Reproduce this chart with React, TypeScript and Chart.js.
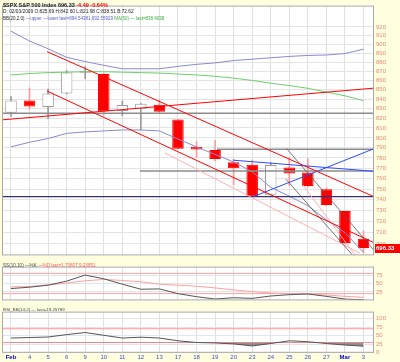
import React, { useEffect, useRef } from "react";
import { Chart, registerables } from "chart.js";

Chart.register(...registerables);

const FONT = "'Liberation Sans', Arial, sans-serif";

// ---------- data ----------
const dateLabels = ["Feb", "4", "5", "6", "9", "10", "11", "12", "13", "17", "18", "19", "20", "23", "24", "25", "26", "27", "Mar", "3"];
const opens = [825.69, 838.51, 831.75, 846.09, 868.24, 866.87, 827.41, 829.91, 833.95, 818.61, 791.06, 787.91, 775.87, 773.25, 744.69, 770.64, 765.76, 749.93, 729.57, 704.44];
const highs = [842.6, 851.85, 850.55, 870.75, 875.01, 868.05, 838.22, 835.48, 839.43, 818.61, 796.17, 797.58, 778.69, 777.85, 775.49, 780.12, 779.42, 751.27, 729.57, 711.67];
const lows = [821.98, 829.18, 819.91, 845.42, 861.65, 822.99, 822.3, 808.06, 825.21, 789.17, 780.43, 777.03, 754.25, 742.37, 744.69, 752.89, 751.75, 734.52, 699.7, 692.3];
const closes = [838.51, 832.23, 845.85, 868.6, 869.89, 827.16, 833.74, 835.19, 826.84, 789.17, 788.42, 778.94, 770.05, 743.33, 773.14, 764.9, 752.83, 735.09, 700.82, 696.33];

const bbUpper = [915, 903.8, 895, 885.4, 880.7, 876.5, 872.7, 872.7, 872.7, 875.4, 877.6, 879.2, 881.8, 883.3, 884.9, 886.4, 887.5, 888, 889.6, 894.54];
const bbLower = [791, 795.6, 799.3, 804.5, 806, 807, 808, 808, 807, 798.8, 791, 783.5, 776, 766.6, 751.6, 743.4, 734.5, 721.5, 710, 692.56];
const ma50 = [866, 867.5, 868.5, 869, 869.5, 869.5, 869, 868.5, 868, 867, 866, 864.5, 862.5, 860, 857, 854.5, 851.5, 847.5, 843.5, 838.4];

const ssK = [35, 39, 45, 57, 75, 64, 48, 33, 34, 20, 11, 4, 8, 6, 13, 17, 19, 12, 4, 1.71];
const ssD = [40, 41, 46, 51, 58, 62, 59, 55, 48, 45, 42, 37, 31, 26, 22, 20, 19, 16, 12, 9.24];
const rsi = [43, 44.5, 46, 53, 59, 51, 43, 45.5, 43, 35, 30, 28.7, 25.9, 20, 27, 35, 32.3, 27, 22.6, 19.26];

const priceTicks = [700, 710, 720, 730, 740, 750, 760, 770, 780, 790, 800, 810, 820, 830, 840, 850, 860, 870, 880, 890, 900, 910, 920];
const ssTicks = [25, 50, 75];
const ssLevels = [80, 20];
const rsiTicks = [0, 25, 50, 75, 100];
const rsiLevels = [70, 30];

// hand-drawn trend lines: [date index, price]
const trendRedUpper = [[1.94, 891.8], [19.57, 742.8]];
const trendRedLower = [[1.94, 848.6], [19.57, 701.0]];
const trendRedRising = [[-0.49, 818.3], [19.57, 851.7]];
const trendPink1 = [[8.3, 784.9], [18.81, 691.9]];
const trendPink2 = [[15.74, 753.7], [18.6, 689.1]];
const levelGray1 = [[-0.49, 825.3], [19.57, 825.3]];
const levelGray2 = [[11.1, 788.5], [19.57, 788.5]];
const levelGray3 = [[6.95, 767.2], [19.57, 767.2]];
const levelNavy = [[-0.49, 743.0], [19.57, 743.0]];
const trendBlueFlat = [[11.97, 777.8], [19.57, 767.0]];
const trendBlueRising = [[13.05, 742.8], [19.57, 789.2]];
const trendBlack1 = [[14.86, 789.2], [19.57, 694.4]];
const trendBlack2 = [[14.82, 759.4], [18.38, 690.7]];

// ---------- helpers ----------
const X_MIN = -0.485;
const X_MAX = 19.566;
const AXIS_COLOR = "#F08872";

const pts = (arr: number[][]) => arr.map(([x, y]) => ({ x, y }));
const series = (arr: number[]) => arr.map((y, i) => ({ x: i, y }));

const lineDs = (data: any[], color: string, width = 1, order = 0, extra: any = {}) => ({
  type: "line",
  data,
  borderColor: color,
  borderWidth: width,
  pointRadius: 0,
  fill: false,
  tension: 0,
  order,
  ...extra,
});

const xAxis = (showLabels: boolean) => ({
  type: "linear",
  min: X_MIN,
  max: X_MAX,
  offset: false,
  afterBuildTicks: (axis: any) => {
    axis.ticks = dateLabels.map((_, i) => ({ value: i }));
  },
  afterFit: (axis: any) => {
    axis.height = showLabels ? 9.2 : 0;
  },
  ticks: {
    display: showLabels,
    autoSkip: false,
    maxRotation: 0,
    minRotation: 0,
    padding: 1,
    callback: (v: any) => dateLabels[Math.round(v)] ?? "",
    color: (c: any) => (c.index === 0 || c.index === 18 ? "#0000CC" : "#3A4BC8"),
    font: (c: any) => ({ family: FONT, size: 6, weight: c.index === 0 || c.index === 18 ? "bold" : "normal" }),
  },
  grid: { color: "#e0e0e0", lineWidth: 1, drawTicks: false, offset: false },
  border: { display: false },
});

const yAxisBase = (tickValues: number[]) => ({
  position: "right",
  afterBuildTicks: (axis: any) => {
    axis.ticks = tickValues.map((v) => ({ value: v }));
  },
  afterFit: (axis: any) => {
    axis.width = 26;
  },
  ticks: {
    padding: 2,
    autoSkip: false,
    callback: (v: any) => String(v),
    color: AXIS_COLOR,
    font: { family: FONT, size: 6 },
  },
  grid: { color: "#e4e4e4", lineWidth: 1, drawTicks: false },
  border: { display: false },
});

const frame = {
  id: "frame",
  beforeDraw(chart: any) {
    const { ctx, chartArea: a } = chart;
    ctx.save();
    ctx.fillStyle = "#ffffff";
    ctx.fillRect(a.left, a.top, a.right - a.left, a.bottom - a.top);
    ctx.restore();
  },
  afterDraw(chart: any) {
    const { ctx, chartArea: a } = chart;
    ctx.save();
    ctx.strokeStyle = "#a8a8a8";
    ctx.lineWidth = 1;
    ctx.strokeRect(a.left + 0.5, a.top + 0.5, a.right - a.left - 1, a.bottom - a.top - 1);
    ctx.restore();
  },
};

const lastBox = {
  id: "lastBox",
  afterDraw(chart: any) {
    const last = closes[closes.length - 1];
    const y = chart.scales.y.getPixelForValue(last);
    const { ctx, chartArea } = chart;
    ctx.save();
    ctx.fillStyle = "#FF0000";
    ctx.fillRect(chartArea.right + 1, Math.round(y) - 4, 26, 9);
    ctx.fillStyle = "#ffffff";
    ctx.font = `bold 6px ${FONT}`;
    ctx.textBaseline = "middle";
    ctx.fillText(last.toFixed(2), chartArea.right + 2, Math.round(y) + 0.5);
    ctx.restore();
  },
};

const isUp = (i: number) => closes[i] >= opens[i];

function mainConfig(): any {
  return {
    type: "line",
    data: {
      datasets: [
        {
          type: "bar",
          data: highs.map((h, i) => ({ x: i, y: [lows[i], h] })),
          backgroundColor: closes.map((_, i) => (isUp(i) ? "#9a9a9a" : "#FF9a9a")),
          borderWidth: 0,
          barPercentage: 1,
          categoryPercentage: 1,
          maxBarThickness: 1,
          grouped: false,
          order: 30,
        },
        {
          type: "bar",
          data: opens.map((o, i) => ({ x: i, y: [o, closes[i]] })),
          backgroundColor: closes.map((_, i) => (isUp(i) ? "#ffffff" : "#FF0000")),
          borderColor: closes.map((_, i) => (isUp(i) ? "#9a9a9a" : "#FF0000")),
          borderWidth: 1,
          borderSkipped: false,
          barPercentage: 0.62,
          categoryPercentage: 1,
          grouped: false,
          order: 20,
        },
        lineDs(series(bbUpper), "#8a8ad0", 1, 10),
        lineDs(series(bbLower), "#8a8ad0", 1, 10),
        lineDs(series(ma50), "#6ccf6c", 1, 10),
        lineDs(pts(levelGray1), "#8c8c8c", 1.5, 5),
        lineDs(pts(levelGray2), "#8c8c8c", 1.5, 5),
        lineDs(pts(levelGray3), "#8c8c8c", 1.5, 5),
        lineDs(pts(levelNavy), "#33337a", 1.3, 5),
        lineDs(pts(trendPink1), "#FFB0B0", 1, 4),
        lineDs(pts(trendPink2), "#FFB0B0", 1, 4),
        lineDs(pts(trendBlack1), "#555555", 0.8, 3),
        lineDs(pts(trendBlack2), "#555555", 0.8, 3),
        lineDs(pts(trendBlueFlat), "#2a4cff", 1, 2),
        lineDs(pts(trendBlueRising), "#2a4cff", 1, 2),
        lineDs(pts(trendRedUpper), "#FF0000", 1, 1),
        lineDs(pts(trendRedLower), "#FF0000", 1, 1),
        lineDs(pts(trendRedRising), "#FF0000", 1, 1),
      ],
    },
    options: {
      responsive: false,
      animation: false,
      events: [],
      layout: { padding: { left: 2, top: 1, right: 0, bottom: 0 } },
      plugins: { legend: { display: false }, tooltip: { enabled: false }, title: { display: false } },
      scales: {
        x: xAxis(false),
        y: { ...yAxisBase(priceTicks), type: "logarithmic", min: 689.9, max: 945 },
      },
    },
    plugins: [frame, lastBox],
  };
}

function ssConfig(): any {
  return {
    type: "line",
    data: {
      datasets: [
        ...ssLevels.map((lv) =>
          lineDs([{ x: X_MIN, y: lv }, { x: X_MAX, y: lv }], "#FF9f9f", 1, 5)
        ),
        lineDs(series(ssD), "#FF9f9f", 1, 2),
        lineDs(series(ssK), "#555555", 1, 1),
      ],
    },
    options: {
      responsive: false,
      animation: false,
      events: [],
      layout: { padding: { left: 2, top: 0, right: 0, bottom: 0 } },
      plugins: { legend: { display: false }, tooltip: { enabled: false } },
      scales: {
        x: xAxis(false),
        y: { ...yAxisBase(ssTicks), type: "linear", min: 0, max: 100 },
      },
    },
    plugins: [frame],
  };
}

function rsiConfig(): any {
  return {
    type: "line",
    data: {
      datasets: [
        ...rsiLevels.map((lv) =>
          lineDs([{ x: X_MIN, y: lv }, { x: X_MAX, y: lv }], "#FF9090", 1, 5)
        ),
        lineDs(series(rsi), "#555555", 1, 1, {
          fill: { target: { value: 30 }, above: "rgba(0,0,0,0)", below: "rgba(110,110,110,0.75)" },
        }),
      ],
    },
    options: {
      responsive: false,
      animation: false,
      events: [],
      layout: { padding: { left: 2, top: 0, right: 0, bottom: 0 } },
      plugins: { legend: { display: false }, tooltip: { enabled: false }, filler: { propagate: false } },
      scales: {
        x: xAxis(true),
        y: { ...yAxisBase(rsiTicks), type: "linear", min: 0, max: 120 },
      },
    },
    plugins: [frame],
  };
}

const txt = (top: number, size: number, bold = false): React.CSSProperties => ({
  position: "absolute",
  left: 3,
  top,
  fontFamily: FONT,
  fontSize: size,
  fontWeight: bold ? "bold" : "normal",
  lineHeight: `${size + 1}px`,
  whiteSpace: "nowrap",
  color: "#222",
  pointerEvents: "none",
});

export default function App() {
  const mainRef = useRef<HTMLCanvasElement>(null);
  const ssRef = useRef<HTMLCanvasElement>(null);
  const rsiRef = useRef<HTMLCanvasElement>(null);

  useEffect(() => {
    const charts = [
      new Chart(mainRef.current as HTMLCanvasElement, mainConfig()),
      new Chart(ssRef.current as HTMLCanvasElement, ssConfig()),
      new Chart(rsiRef.current as HTMLCanvasElement, rsiConfig()),
    ];
    return () => charts.forEach((c) => c.destroy());
  }, []);

  return (
    <div
      style={{
        position: "fixed",
        left: 0,
        top: 0,
        width: 400,
        height: 362,
        background: "#FFFFE0",
        overflow: "hidden",
      }}
    >
      <canvas ref={mainRef} width={400} height={261} style={{ position: "absolute", left: 0, top: 0 }} />
      <canvas ref={ssRef} width={400} height={45} style={{ position: "absolute", left: 0, top: 261 }} />
      <canvas ref={rsiRef} width={400} height={56} style={{ position: "absolute", left: 0, top: 306 }} />

      <div style={txt(1.5, 5.5, true)}>
        <span>{"$SPX S&P 500 Index 696.33"}</span>{" "}
        <span style={{ color: "#FF0000" }}>{"-4.49 -0.64%"}</span>
      </div>
      <div style={txt(8.5, 4.8)}>{"D: 02/03/2009 O:825.69 H:842.60 L:821.98 C:838.51 B:72.62"}</div>
      <div style={txt(15.5, 4.5)}>
        <span>{"BB(20,2.0) "}</span>
        <span style={{ color: "#5a5acc" }}>{"—upper —lower last=894.54381;692.55929 "}</span>
        <span style={{ color: "#3aaa3a" }}>{"MA(50) — last=838.4038"}</span>
      </div>
      <div style={txt(262.5, 4.6)}>
        <span style={{ color: "#444" }}>{"SS(10,10) —%K "}</span>
        <span style={{ color: "#FF5a5a" }}>{"—%D last=1.70807,9.23851"}</span>
      </div>
      <div style={{ ...txt(307, 4.4), color: "#444" }}>{"RSI_BB(14,2) — last=19.25789"}</div>
    </div>
  );
}
